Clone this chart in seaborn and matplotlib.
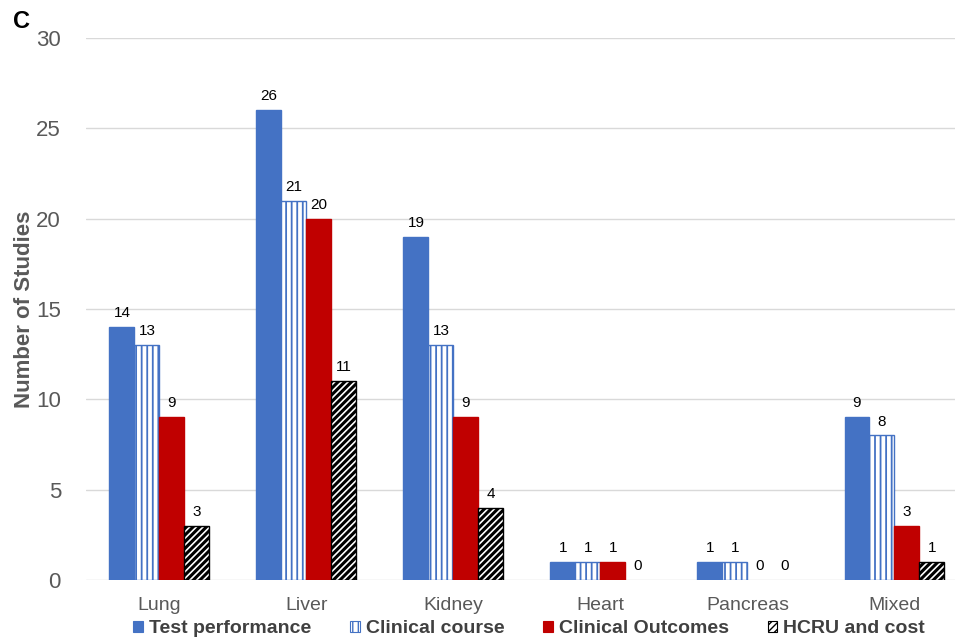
import matplotlib
matplotlib.use("Agg")
import matplotlib.pyplot as plt
from matplotlib.patches import Patch
import seaborn as sns
import pandas as pd

# Studies per organ, by outcome category
organs = ["Lung", "Liver", "Kidney", "Heart", "Pancreas", "Mixed"]
series = ["Test performance", "Clinical course", "Clinical Outcomes", "HCRU and cost"]
test_performance = [14, 26, 19, 1, 1, 9]
clinical_course = [13, 21, 13, 1, 1, 8]
clinical_outcomes = [9, 20, 9, 1, 0, 3]
hcru_cost = [3, 11, 4, 0, 0, 1]
y_ticks = [0, 5, 10, 15, 20, 25, 30]

values = [test_performance, clinical_course, clinical_outcomes, hcru_cost]
rows = []
for name, vals in zip(series, values):
    for organ, v in zip(organs, vals):
        rows.append({"Organ": organ, "Outcome": name, "Studies": v})
df = pd.DataFrame(rows)

BLUE = "#4472C4"
RED = "#C00000"
GRAY = "#595959"
styles = {
    "Test performance": dict(facecolor=BLUE, edgecolor=BLUE, hatch=None, hlw=1.0),
    "Clinical course": dict(facecolor="white", edgecolor=BLUE, hatch="|||", hlw=1.3),
    "Clinical Outcomes": dict(facecolor=RED, edgecolor=RED, hatch=None, hlw=1.0),
    "HCRU and cost": dict(facecolor="white", edgecolor="black", hatch="/////", hlw=2.2),
}

sns.set_theme(style="white")
plt.rcParams["font.family"] = ["Liberation Sans", "DejaVu Sans"]

fig = plt.figure(figsize=(9.55, 6.4), dpi=100)
ax = fig.add_axes([0.090, 0.09375, 0.9236, 0.847])

sns.barplot(data=df, x="Organ", y="Studies", hue="Outcome", order=organs,
            hue_order=series, width=0.68, gap=0, ax=ax, legend=False,
            errorbar=None, saturation=1)

for name, cont in zip(series, ax.containers):
    st = styles[name]
    for bar in cont:
        bar.set_facecolor(st["facecolor"])
        bar.set_edgecolor(st["edgecolor"])
        bar.set_linewidth(1.0 if bar.get_height() > 0 else 0.0)
        if st["hatch"]:
            bar.set_hatch(st["hatch"])
            if hasattr(bar, "set_hatch_linewidth"):
                bar.set_hatch_linewidth(st["hlw"])
    ax.bar_label(cont, labels=[str(int(b.get_height())) for b in cont],
                 padding=5, fontsize=11, color="black")

ax.set_ylim(0, 30)
ax.set_xlim(-0.5, len(organs) - 0.5)
ax.set_yticks(y_ticks)
ax.yaxis.grid(True, color="#D9D9D9", linewidth=1.0)
ax.set_axisbelow(True)
for s in ax.spines.values():
    s.set_visible(False)
ax.tick_params(axis="y", labelsize=16, labelcolor=GRAY, length=0, pad=18)
ax.tick_params(axis="x", labelsize=14, labelcolor=GRAY, length=0, pad=12)
ax.set_xlabel("")
ax.set_ylabel("Number of Studies", fontsize=16, fontweight="bold", color=GRAY, labelpad=1)

fig.text(0.014, 0.966, "C", fontsize=17, fontweight="bold", color="black",
         ha="left", va="center")

handles = []
for name in series:
    st = styles[name]
    handles.append(Patch(facecolor=st["facecolor"], edgecolor=st["edgecolor"],
                         hatch=st["hatch"], linewidth=0.8))
fig.legend(handles, series, loc="center", bbox_to_anchor=(0.554, 0.018), ncol=4,
           frameon=False, handlelength=0.5, handleheight=0.5, handletextpad=0.3,
           columnspacing=2.0, prop={"size": 14, "weight": "bold"},
           labelcolor="#404040")

fig.savefig("out.png", dpi=100)
